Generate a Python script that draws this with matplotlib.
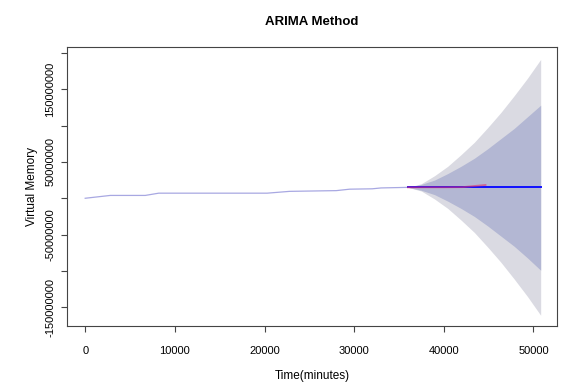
import matplotlib
matplotlib.use('Agg')
import matplotlib.pyplot as plt

# observed series (minutes, virtual memory)
hist_t = [0, 2800, 6700, 8200, 20300, 22800, 28000, 29500, 32000, 33000, 36000]
hist_v = [0.0e6, 3.9e6, 3.9e6, 7.0e6, 7.0e6, 9.5e6, 10.5e6, 12.5e6, 13.0e6, 14.2e6, 15.0e6]

# forecast horizon
fc_t = [36000, 37480, 38960, 40440, 41920, 43400, 44880, 46360, 47840, 49320, 50800]
fc_mean = [15e6] * len(fc_t)
hi95 = [15e6, 20e6, 31e6, 44e6, 60e6, 77e6, 97e6, 118e6, 141e6, 165e6, 191e6]
lo95 = [15e6, 10e6, -1e6, -14e6, -30e6, -47e6, -67e6, -88e6, -111e6, -135e6, -161e6]
hi80 = [15e6, 19e6, 25e6, 34e6, 44e6, 55e6, 68e6, 82e6, 96e6, 112e6, 128e6]
lo80 = [15e6, 11e6, 5e6, -4e6, -14e6, -25e6, -38e6, -52e6, -66e6, -82e6, -99e6]

# held-out test data
test_t = [36000, 38000, 40000, 42100, 43500, 44650]
test_v = [15.0e6, 15.1e6, 15.1e6, 15.3e6, 17.0e6, 18.3e6]

x_ticks = [0, 10000, 20000, 30000, 40000, 50000]
y_ticks = [-150000000, -100000000, -50000000, 0, 50000000, 100000000, 150000000, 200000000]
y_labels = ["-150000000", "", "-50000000", "", "50000000", "", "150000000", ""]

plt.rcParams['font.family'] = ['Liberation Sans Narrow', 'Liberation Sans', 'DejaVu Sans']

fig = plt.figure(figsize=(5.63, 3.86), dpi=100)
ax = fig.add_axes([0.119, 0.155, 0.870, 0.723])

ax.fill_between(fc_t, lo95, hi95, color='#dadae2', linewidth=0)
ax.fill_between(fc_t, lo80, hi80, color='#b3b7d3', linewidth=0)
ax.plot(hist_t, hist_v, color='#a8a8e2', lw=0.9)
ax.plot(fc_t, fc_mean, color='#1010ff', lw=1.4)
ax.plot(test_t, test_v, color='#e0306a', lw=1.3, alpha=0.6)

ax.set_xlim(-2030, 52600)
ax.set_ylim(-176e6, 208e6)
ax.set_xticks(x_ticks)
ax.set_xticklabels([str(v) for v in x_ticks])
ax.set_yticks(y_ticks)
ax.set_yticklabels(y_labels, rotation=90, va='center')

for s in ax.spines.values():
    s.set_color('#444444')
    s.set_linewidth(0.8)
ax.tick_params(axis='both', length=4.5, width=0.8, color='#444444', labelsize=8)
ax.tick_params(axis='x', pad=10)
ax.tick_params(axis='y', pad=4)

ax.set_xlabel("Time(minutes)", fontsize=8.5, labelpad=10)
ax.set_ylabel("Virtual Memory", fontsize=8.5, labelpad=5)
ax.set_title("ARIMA Method", fontsize=9.5, fontweight='bold', pad=16)

fig.savefig("out.png", dpi=100)
